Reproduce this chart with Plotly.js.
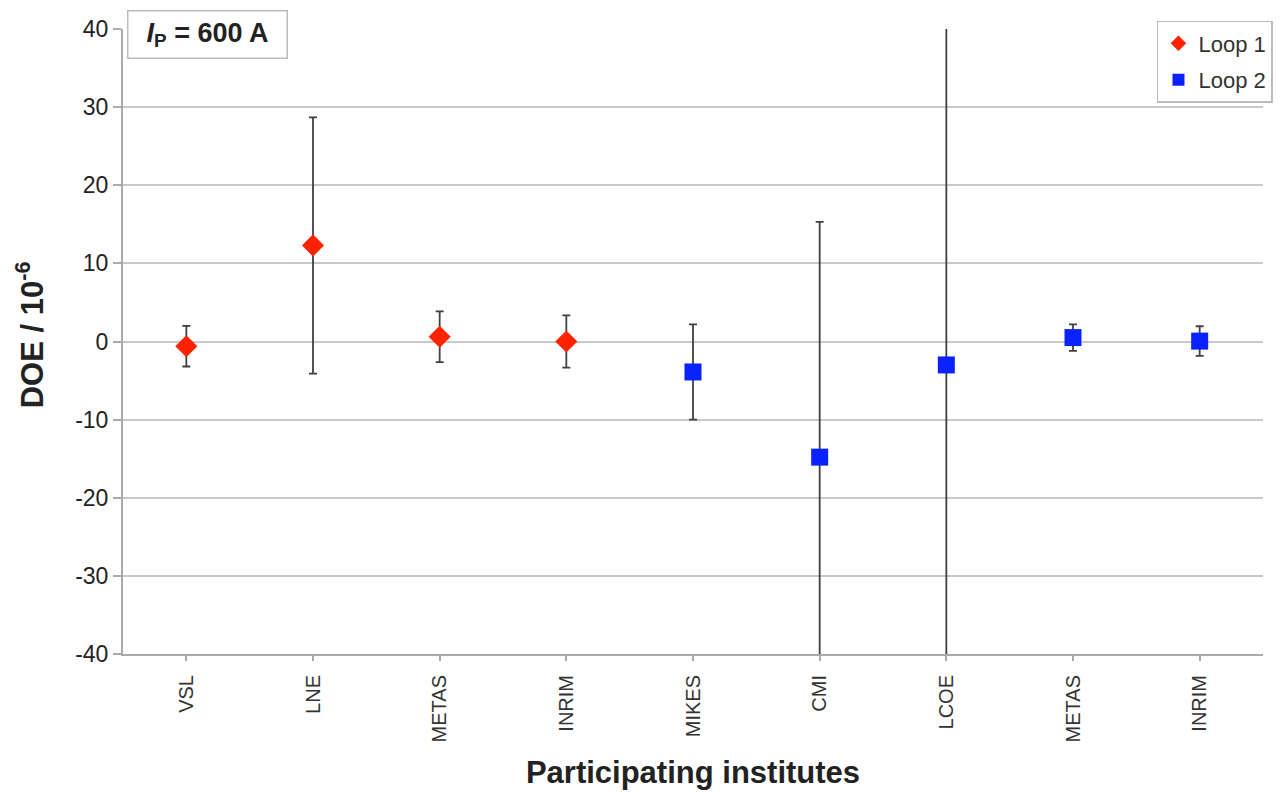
<!DOCTYPE html>
<html>
<head>
<meta charset="utf-8">
<script src="https://cdn.plot.ly/plotly-3.0.1.min.js"></script>
<style>html,body{margin:0;padding:0;background:#fff;}#chart{width:1284px;height:792px;}</style>
</head>
<body>
<div id="chart"></div>
<script>
var institutes = ["VSL", "LNE", "METAS", "INRIM", "MIKES", "CMI", "LCOE", "METAS", "INRIM"];
var loop1Pos = [0, 1, 2, 3];
var loop1Doe = [-0.6, 12.3, 0.6, 0.0];
var loop1Unc = [2.6, 16.4, 3.25, 3.35];
var loop2Pos = [4, 5, 6, 7, 8];
var loop2Doe = [-3.9, -14.8, -3.0, 0.5, 0.05];
var loop2Unc = [6.1, 30.1, 50, 1.7, 1.9];
var yTicks = [-40, -30, -20, -10, 0, 10, 20, 30, 40];
var yTickText = ["-40", "-30", "-20", "-10", "0", "10", "20", "30", "40"];

var errStyle = {type: 'data', visible: true, color: '#404040', thickness: 1.8, width: 4};

var traces = [
  {
    x: loop1Pos, y: loop1Doe, name: 'Loop 1', type: 'scatter', mode: 'markers', legendgroup: 'a',
    marker: {symbol: 'diamond', size: 17, color: '#ff2200'},
    error_y: Object.assign({array: loop1Unc}, errStyle)
  },
  {
    x: loop2Pos, y: loop2Doe, name: 'Loop 2', type: 'scatter', mode: 'markers', legendgroup: 'b',
    marker: {symbol: 'square', size: 17, color: '#0a22ff'},
    error_y: Object.assign({array: loop2Unc}, errStyle)
  }
];

var layout = {
  width: 1284, height: 792,
  margin: {l: 123, r: 21, t: 29, b: 138, autoexpand: false},
  paper_bgcolor: '#fff', plot_bgcolor: '#fff',
  font: {family: 'Liberation Sans, Arial, sans-serif', color: '#222'},
  showlegend: true,
  legend: {
    x: 0.907, y: 1.013, xanchor: 'left', yanchor: 'top',
    bgcolor: '#fff', bordercolor: '#bbb', borderwidth: 1.5,
    font: {size: 22, color: '#333'}, itemsizing: 'constant', tracegroupgap: 5
  },
  xaxis: {
    range: [-0.5, 8.5], tickmode: 'array', tickvals: institutes.map(function(_, i){return i;}),
    ticktext: institutes, tickangle: -90, tickfont: {size: 20, color: '#333'}, ticklabelstandoff: 6,
    showgrid: false, zeroline: false, showline: true, linecolor: '#aaa', linewidth: 2,
    ticks: 'outside', ticklen: 5, tickcolor: '#aaa', tickwidth: 1.5,
    title: {text: '<b>Participating institutes</b>', font: {size: 31, color: '#222'}, standoff: 20}
  },
  yaxis: {
    range: [-40, 40], tickmode: 'array', tickvals: yTicks, ticktext: yTickText,
    tickfont: {size: 23, color: '#222'},
    showgrid: true, gridcolor: '#c8c8c8', gridwidth: 1.5, zeroline: false,
    showline: true, linecolor: '#aaa', linewidth: 2,
    ticks: 'outside', ticklen: 8, tickcolor: '#aaa', tickwidth: 1.5
  },
  annotations: [
    {
      xref: 'paper', yref: 'paper', x: -0.0815, y: 0.51, xanchor: 'center', yanchor: 'middle',
      text: '<b>DOE / 10<sup>-6</sup></b>', textangle: -90, showarrow: false,
      font: {size: 31, color: '#222'}
    },
    {
      xref: 'paper', yref: 'paper', x: 0.0035, y: 1.03, xanchor: 'left', yanchor: 'top',
      text: '<b><i>I</i><sub>P</sub> = 600 A</b>', showarrow: false, align: 'center',
      width: 150, height: 38, borderpad: 4,
      font: {size: 27, color: '#222'}, bgcolor: '#fff', bordercolor: '#bbb', borderwidth: 1.5
    }
  ]
};

Plotly.newPlot('chart', traces, layout, {displayModeBar: false});
</script>
</body>
</html>
